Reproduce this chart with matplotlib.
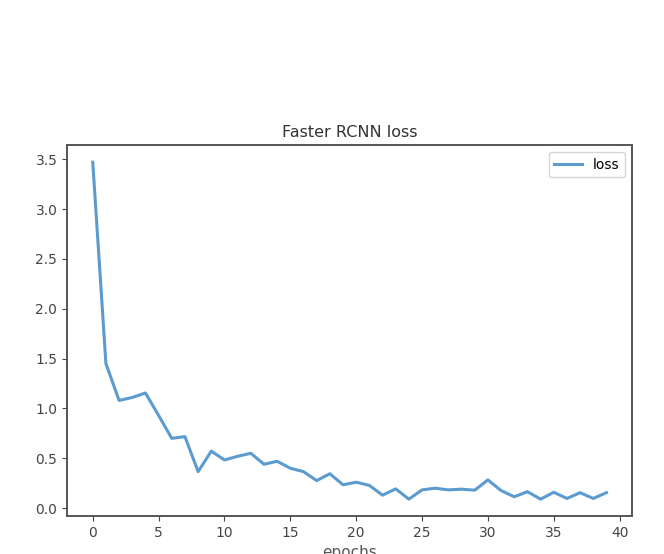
import numpy as np
import matplotlib
matplotlib.use("Agg")
import matplotlib.pyplot as plt

# loss per epoch
epochs = np.arange(40)
loss = [3.47, 1.45, 1.08, 1.11, 1.155, 0.93, 0.70, 0.717, 0.366, 0.572,
        0.483, 0.52, 0.55, 0.44, 0.47, 0.40, 0.366, 0.276, 0.345, 0.234,
        0.26, 0.228, 0.13, 0.193, 0.09, 0.183, 0.20, 0.183, 0.19, 0.18,
        0.283, 0.176, 0.114, 0.165, 0.09, 0.159, 0.097, 0.155, 0.097, 0.155]

fig = plt.figure(figsize=(6.64, 5.54), dpi=100)
ax = fig.add_axes([0.101, 0.0686, 0.851, 0.669])

ax.plot(epochs, loss, color='#5b9bd0', linewidth=2.2, label='loss')
ax.set_title('Faster RCNN loss', fontsize=11.5, color='#333333')
ax.set_xlabel('epochs', fontsize=11, color='#555555')
ax.set_xticks(np.arange(0, 41, 5))
ax.set_yticks(np.arange(0, 3.6, 0.5))
ax.tick_params(labelsize=10, colors='#444444')
for s in ax.spines.values():
    s.set_color('#555555')
    s.set_linewidth(1.4)
ax.legend(loc='upper right', fontsize=10)

fig.savefig('out.png', dpi=100)
